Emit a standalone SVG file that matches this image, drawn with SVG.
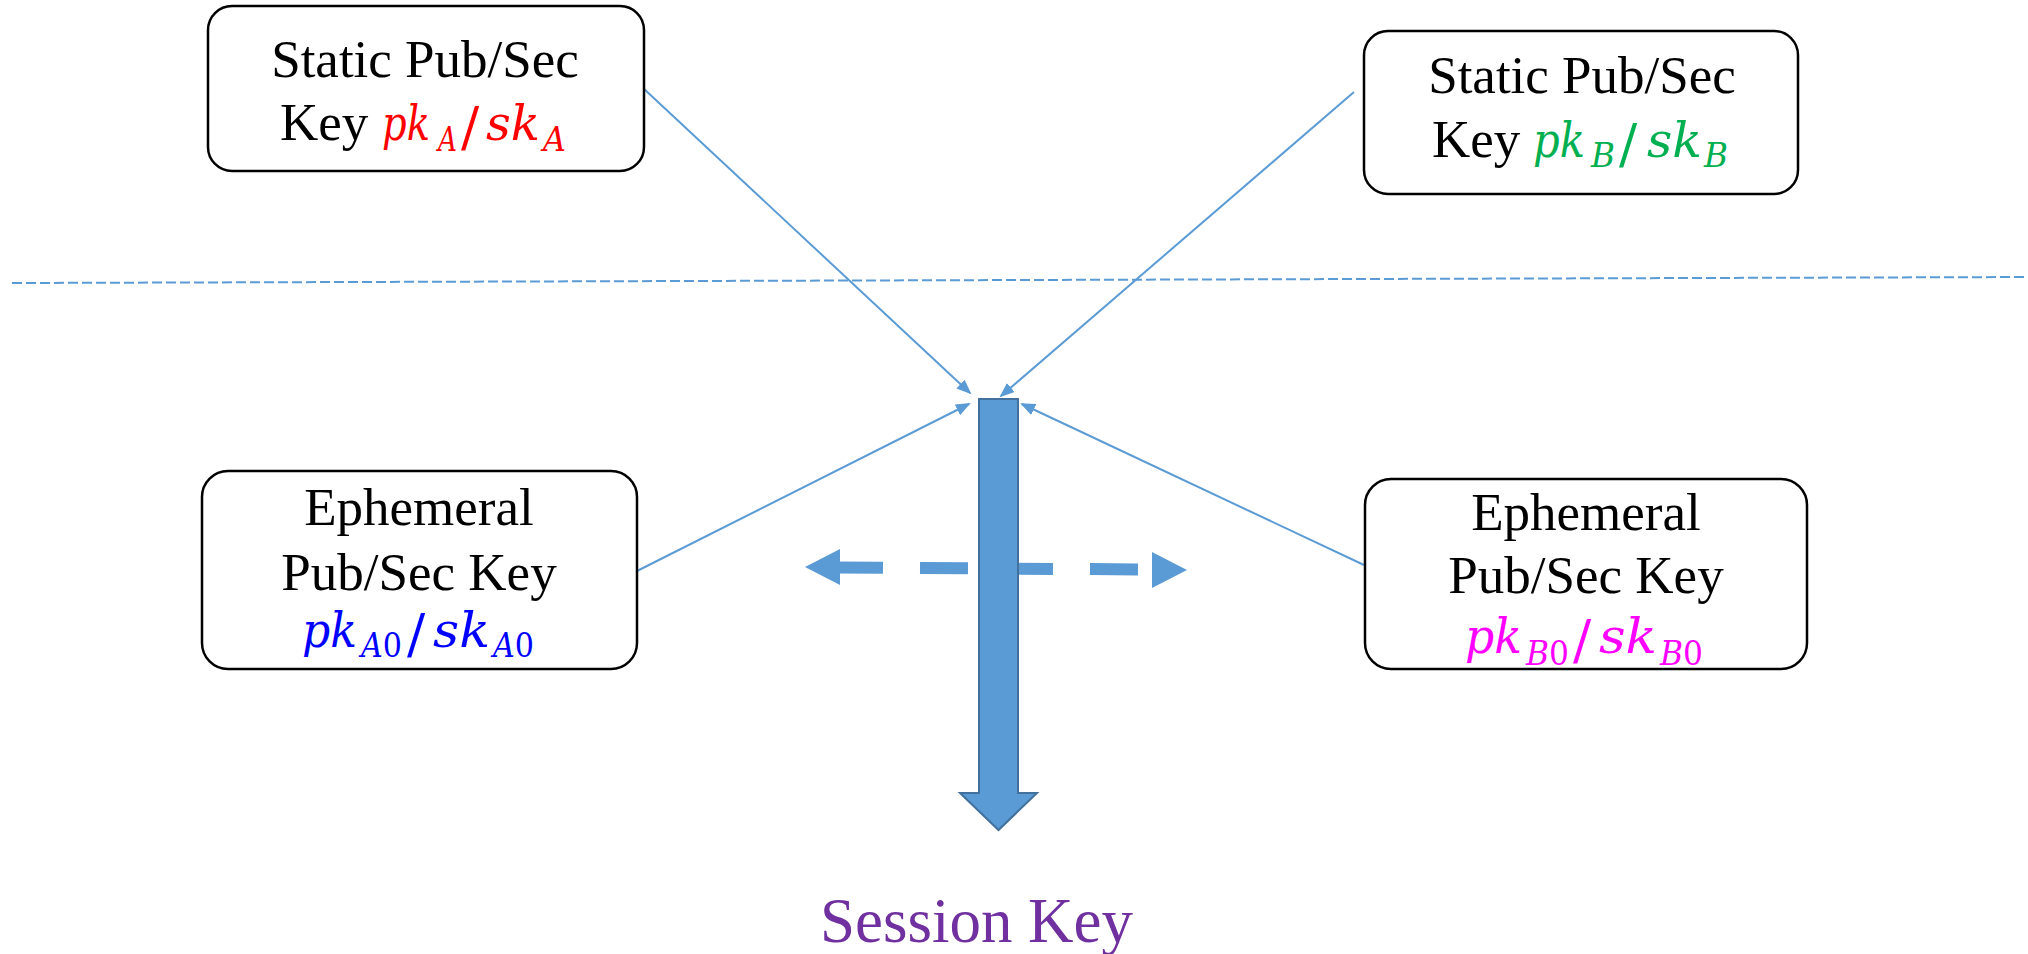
<svg xmlns="http://www.w3.org/2000/svg" width="2028" height="954" viewBox="0 0 2028 954">
  <style>
    .box { fill: #ffffff; stroke: #000000; stroke-width: 2.5; }
    .lbl { font-family: "Liberation Serif", "Times New Roman", serif; font-size: 53px; fill: #000000; }
    .m { font-family: "DejaVu Serif", "Liberation Serif", serif; font-style: italic; font-size: 49px; }
    .sub { font-size: 33px; }
    .up { font-style: normal; }
    .sl { font-family: "DejaVu Serif", "Liberation Serif", serif; font-style: normal; font-size: 54px; }
    .red { fill: #FF0000; }
    .green { fill: #00B050; }
    .blue { fill: #0000FF; }
    .magenta { fill: #FF00FF; }
    .conn { fill: none; stroke: #5B9BD5; stroke-width: 2; marker-end: url(#tri); }
  </style>
  <defs>
    <marker id="tri" markerUnits="userSpaceOnUse" markerWidth="16" markerHeight="12" refX="13" refY="6" orient="auto">
      <path d="M0,0 L15,6 L0,12 z" fill="#5B9BD5"/>
    </marker>
  </defs>

  <rect width="2028" height="954" fill="#ffffff"/>

  <!-- separator between static and ephemeral keys -->
  <g id="separator">
    <line x1="12" y1="283" x2="2028" y2="277" stroke="#5B9BD5" stroke-width="2" stroke-dasharray="10 4"/>
  </g>

  <!-- thin connectors into the derivation arrow -->
  <g id="connectors">
    <line class="conn" x1="643" y1="88" x2="970" y2="393"/>
    <line class="conn" x1="1354" y1="92" x2="1001" y2="396"/>
    <line class="conn" x1="637" y1="571" x2="969" y2="404"/>
    <line class="conn" x1="1364" y1="565" x2="1022" y2="404"/>
  </g>

  <!-- exchange of ephemeral keys (dashed, two-headed) -->
  <g id="exchange">
    <line x1="835" y1="567.5" x2="1152" y2="569.5" stroke="#5B9BD5" stroke-width="12" stroke-dasharray="48 37"/>
    <polygon points="805,567 840,549 840,585" fill="#5B9BD5"/>
    <polygon points="1187,570 1152,552 1152,588" fill="#5B9BD5"/>
  </g>

  <!-- derivation arrow -->
  <g id="derive-arrow">
    <path d="M979,399 L1018,399 L1018,793 L1037,793 L998.5,830 L960,793 L979,793 Z" fill="#5B9BD5" stroke="#41719C" stroke-width="2" stroke-linejoin="miter"/>
  </g>

  <g id="node-static-a">
    <rect class="box" x="208" y="6" width="436" height="165" rx="24" ry="24"/>
    <text class="lbl" x="425" y="77" text-anchor="middle">Static Pub/Sec</text>
    <text class="lbl" x="280" y="140">Key</text>
    <text class="m red" x="382" y="140" textLength="48" lengthAdjust="spacingAndGlyphs">pk</text>
    <text class="m sub red" x="438" y="151" textLength="19" lengthAdjust="spacingAndGlyphs">A</text>
    <text class="sl red" x="461" y="146">/</text>
    <text class="m red" x="486" y="140" textLength="54" lengthAdjust="spacingAndGlyphs">sk</text>
    <text class="m sub red" x="543" y="151" textLength="23" lengthAdjust="spacingAndGlyphs">A</text>
  </g>

  <g id="node-static-b">
    <rect class="box" x="1364" y="31" width="434" height="163" rx="24" ry="24"/>
    <text class="lbl" x="1582" y="93" text-anchor="middle">Static Pub/Sec</text>
    <text class="lbl" x="1432" y="157">Key</text>
    <text class="m green" x="1533" y="157" textLength="52" lengthAdjust="spacingAndGlyphs">pk</text>
    <text class="m sub green" x="1591" y="167" textLength="24" lengthAdjust="spacingAndGlyphs">B</text>
    <text class="sl green" x="1619" y="163">/</text>
    <text class="m green" x="1647" y="157" textLength="55" lengthAdjust="spacingAndGlyphs">sk</text>
    <text class="m sub green" x="1704" y="167" textLength="24" lengthAdjust="spacingAndGlyphs">B</text>
  </g>

  <g id="node-ephemeral-a">
    <rect class="box" x="202" y="471" width="435" height="198" rx="26" ry="26"/>
    <text class="lbl" x="419" y="525" text-anchor="middle">Ephemeral</text>
    <text class="lbl" x="419" y="590" text-anchor="middle">Pub/Sec Key</text>
    <text class="m blue" x="302" y="647" textLength="55" lengthAdjust="spacingAndGlyphs">pk</text>
    <text class="m sub blue" x="361" y="657" textLength="41" lengthAdjust="spacingAndGlyphs">A<tspan class="up">0</tspan></text>
    <text class="sl blue" x="407" y="653">/</text>
    <text class="m blue" x="433" y="647" textLength="57" lengthAdjust="spacingAndGlyphs">sk</text>
    <text class="m sub blue" x="493" y="657" textLength="41" lengthAdjust="spacingAndGlyphs">A<tspan class="up">0</tspan></text>
  </g>

  <g id="node-ephemeral-b">
    <rect class="box" x="1365" y="479" width="442" height="190" rx="26" ry="26"/>
    <text class="lbl" x="1586" y="530" text-anchor="middle">Ephemeral</text>
    <text class="lbl" x="1586" y="593" text-anchor="middle">Pub/Sec Key</text>
    <text class="m magenta" x="1465" y="653" textLength="57" lengthAdjust="spacingAndGlyphs">pk</text>
    <text class="m sub magenta" x="1526" y="665" textLength="43" lengthAdjust="spacingAndGlyphs">B<tspan class="up">0</tspan></text>
    <text class="sl magenta" x="1573" y="659">/</text>
    <text class="m magenta" x="1599" y="653" textLength="58" lengthAdjust="spacingAndGlyphs">sk</text>
    <text class="m sub magenta" x="1660" y="665" textLength="43" lengthAdjust="spacingAndGlyphs">B<tspan class="up">0</tspan></text>
  </g>

  <g id="node-session-key">
    <text x="820" y="942" textLength="313" lengthAdjust="spacingAndGlyphs" font-family="'Liberation Serif', 'Times New Roman', serif" font-size="64" fill="#7030A0">Session Key</text>
  </g>
</svg>
